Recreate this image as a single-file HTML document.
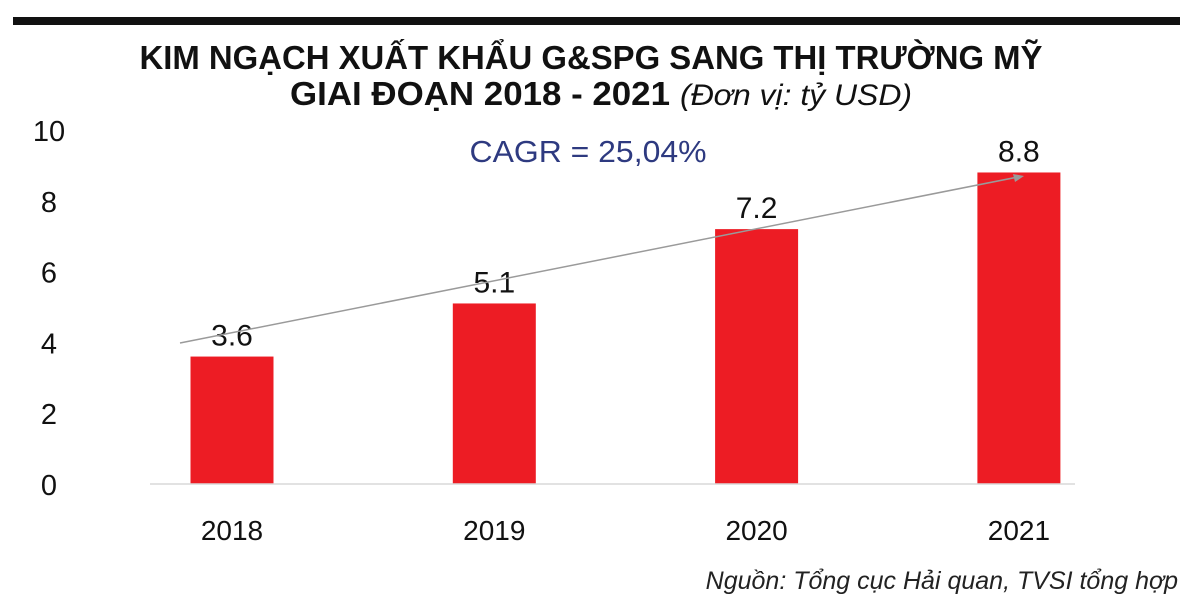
<!DOCTYPE html>
<html><head><meta charset="utf-8"><style>
html,body{margin:0;padding:0;background:#fff;}
svg{display:block;font-family:"Liberation Sans",sans-serif;}
</style></head><body>
<svg id="chart" width="1200" height="608" viewBox="0 0 1200 608">
<rect x="13" y="17" width="1167" height="8" fill="#111"/>
<text x="591" y="69" text-anchor="middle" font-size="33" font-weight="bold" fill="#111" textLength="903" lengthAdjust="spacingAndGlyphs">KIM NGẠCH XUẤT KHẨU G&amp;SPG SANG THỊ TRƯỜNG MỸ</text>
<text x="290" y="105" font-size="33" fill="#111"><tspan font-weight="bold" textLength="380" lengthAdjust="spacingAndGlyphs">GIAI ĐOẠN 2018 - 2021</tspan><tspan dx="10" font-style="italic" font-size="30" textLength="232" lengthAdjust="spacingAndGlyphs">(Đơn vị: tỷ USD)</tspan></text>
<text x="588" y="162" text-anchor="middle" font-size="31" fill="#2e3a80" textLength="237" lengthAdjust="spacingAndGlyphs">CAGR = 25,04%</text>
<g id="yaxis"></g>
<g id="bars"></g>
<line x1="150" y1="484" x2="1075" y2="484" stroke="#d9d9d9" stroke-width="1.5"/>
<g>
<line x1="180" y1="343" x2="1018" y2="177" stroke="#9a9a9a" stroke-width="1.5"/>
<polygon points="1024,176 1013,174 1015,182" fill="#9a9a9a"/>
</g>
<text x="1178" y="589" text-anchor="end" font-size="25" font-style="italic" fill="#222">Nguồn: Tổng cục Hải quan, TVSI tổng hợp</text>
</svg>
<script>
const categories = ["2018","2019","2020","2021"];
const values = [3.6,5.1,7.2,8.8];
const valueLabels = ["3.6","5.1","7.2","8.8"];
const yTicks = [0,2,4,6,8,10];
const ns="http://www.w3.org/2000/svg";
function y(v){return 484 - v*35.4;}
function xc(i){return 232 + i*262.3;}
const ya=document.getElementById('yaxis'), bg=document.getElementById('bars');
yTicks.forEach(t=>{
 const el=document.createElementNS(ns,'text');
 el.setAttribute('x',49);el.setAttribute('y',y(t)+11);el.setAttribute('text-anchor','middle');
 el.setAttribute('font-size','29');el.setAttribute('fill','#111');el.textContent=t;
 
 
 ya.appendChild(el);
});
categories.forEach((c,i)=>{
 const r=document.createElementNS(ns,'rect');
 r.setAttribute('x',xc(i)-41.5);r.setAttribute('width',83);
 r.setAttribute('y',y(values[i]));r.setAttribute('height',484-y(values[i]));r.setAttribute('fill','#ed1c24');
 
 
 bg.appendChild(r);
 const v=document.createElementNS(ns,'text');
 v.setAttribute('x',xc(i));v.setAttribute('y',y(values[i])-11);v.setAttribute('text-anchor','middle');
 v.setAttribute('font-size','30');v.setAttribute('fill','#111');v.textContent=valueLabels[i];
 
 
 bg.appendChild(v);
 const l=document.createElementNS(ns,'text');
 l.setAttribute('x',xc(i));l.setAttribute('y',540);l.setAttribute('text-anchor','middle');
 l.setAttribute('font-size','28');l.setAttribute('fill','#111');l.textContent=c;
 
 
 bg.appendChild(l);
});
</script>
</body></html>
